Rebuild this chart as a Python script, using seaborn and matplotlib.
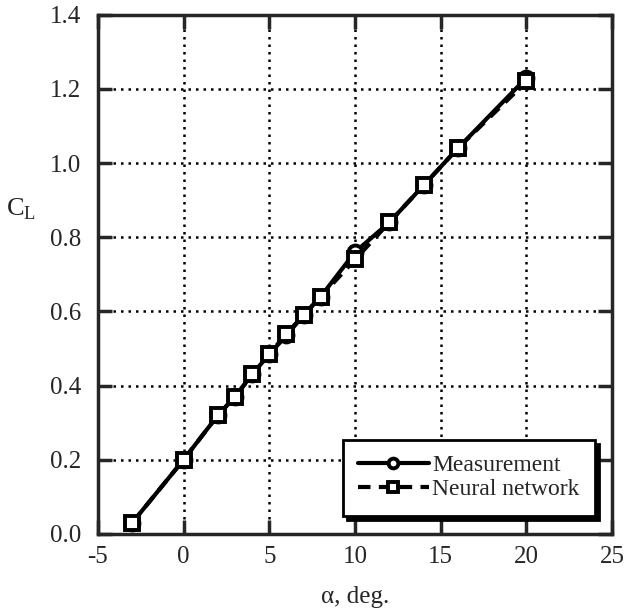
import pandas as pd
import seaborn as sns
import matplotlib.pyplot as plt

# Lift coefficient vs angle of attack
alpha = [-3, 0, 2, 3, 4, 5, 6, 7, 8, 10, 12, 14, 16, 20]
cl_measured = [0.03, 0.20, 0.32, 0.37, 0.43, 0.485, 0.535, 0.59, 0.64, 0.76, 0.84, 0.94, 1.04, 1.23]
cl_network = [0.03, 0.20, 0.32, 0.37, 0.43, 0.485, 0.54, 0.59, 0.64, 0.74, 0.84, 0.94, 1.04, 1.22]
series = ['Measurement', 'Neural network']

x_ticks = [-5, 0, 5, 10, 15, 20, 25]
y_ticks = [0.0, 0.2, 0.4, 0.6, 0.8, 1.0, 1.2, 1.4]

df = pd.concat([
    pd.DataFrame({'alpha': alpha, 'CL': cl_measured, 'source': series[0]}),
    pd.DataFrame({'alpha': alpha, 'CL': cl_network, 'source': series[1]}),
])

sns.set_style('ticks')
plt.rcParams['font.family'] = ['Liberation Serif', 'DejaVu Serif']
plt.rcParams['mathtext.fontset'] = 'custom'
plt.rcParams['mathtext.rm'] = 'Liberation Serif'

fig = plt.figure(figsize=(6.24, 6.15), dpi=100)
ax = fig.add_axes([0.157, 0.132, 0.824, 0.844])

sns.lineplot(data=df, x='alpha', y='CL', style='source', style_order=series,
             markers={series[0]: 'o', series[1]: 's'},
             dashes={series[0]: '', series[1]: (3, 2)},
             color='black', linewidth=3, markersize=10,
             markerfacecolor='white', markeredgecolor='black',
             markeredgewidth=2.8, ax=ax)

ax.set_xlim(-5, 25)
ax.set_ylim(0, 1.4)
ax.set_xticks(x_ticks)
ax.set_yticks(y_ticks)
ax.set_xticklabels([str(t) for t in x_ticks])
ax.set_yticklabels([f'{t:.1f}' for t in y_ticks])
ax.grid(True, color='black', linestyle=(0, (1, 2)), linewidth=1.8)
ax.tick_params(direction='in', length=10, width=2.5, labelsize=18,
               top=True, right=True)
ax.tick_params(axis='y', pad=12)
ax.tick_params(axis='x', pad=9)
for s in ax.spines.values():
    s.set_linewidth(2.5)
    s.set_visible(True)

ax.set_xlabel('α, deg.', fontsize=18, labelpad=13)
ax.set_ylabel('C$_{\\mathregular{L}}$', fontsize=19, rotation=0)
ax.yaxis.set_label_coords(-0.15, 0.6)

leg = ax.legend(loc='lower right', fontsize=17, frameon=True, fancybox=False,
                edgecolor='black', framealpha=1, handlelength=3.0,
                handletextpad=0.15, borderpad=0.65, labelspacing=0.1,
                borderaxespad=0, markerscale=0.7,
                shadow={'color': 'black', 'alpha': 1, 'ox': 3, 'oy': -3},
                bbox_to_anchor=(0.967, 0.035))
leg.get_frame().set_linewidth(2)

plt.savefig('out.png', dpi=100)
